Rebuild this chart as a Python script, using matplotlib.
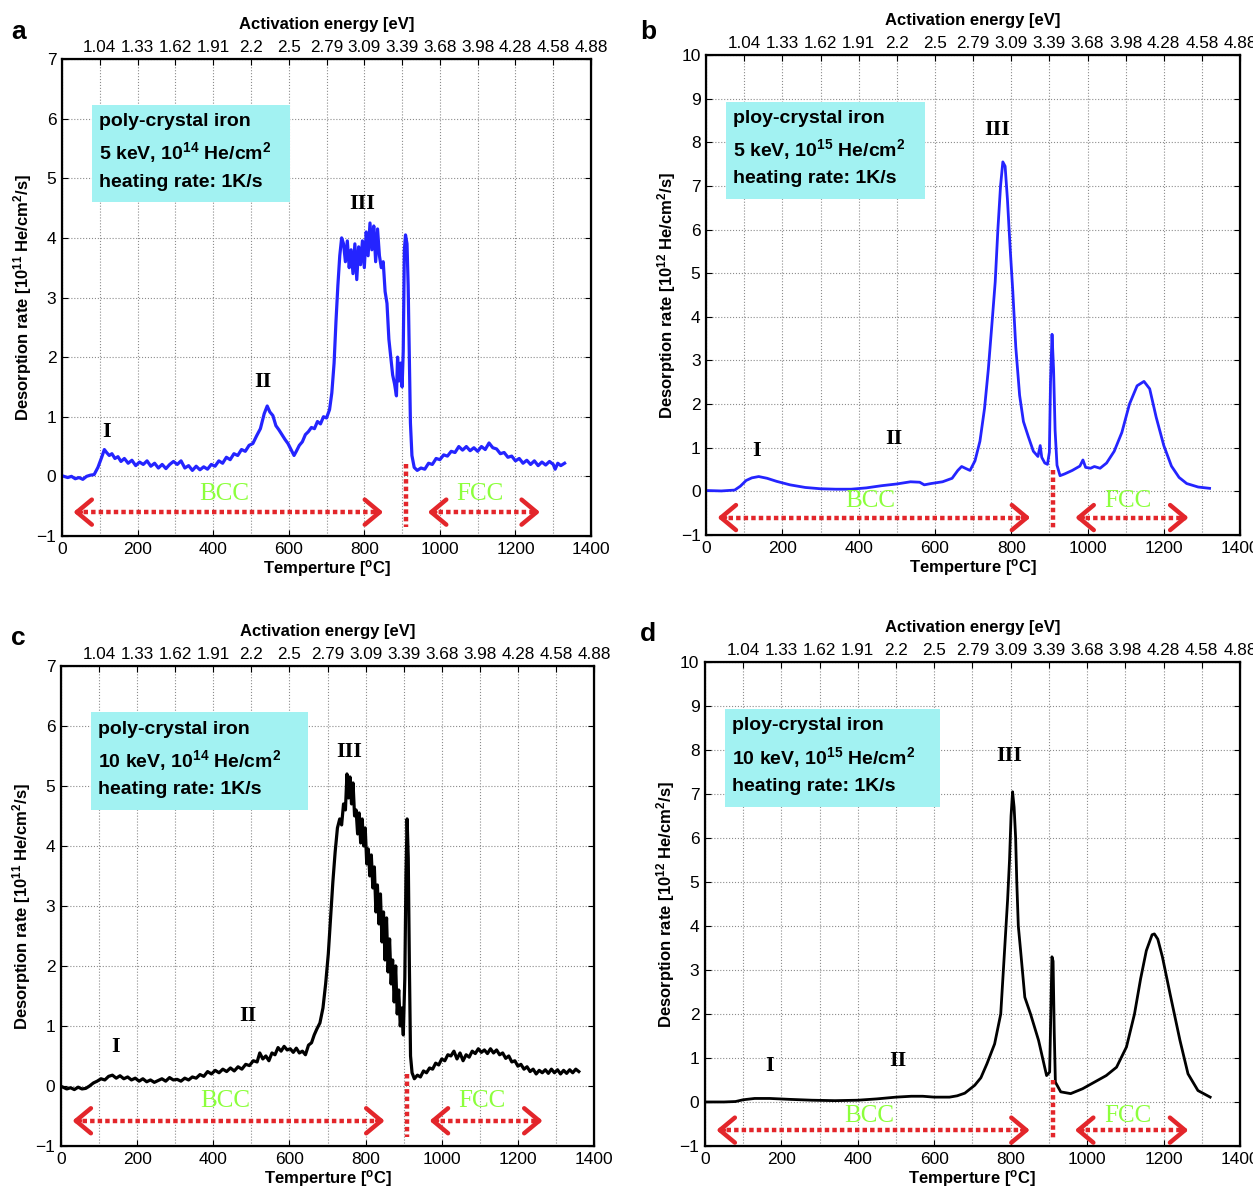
import matplotlib.pyplot as plt
from matplotlib.patches import Rectangle

plt.rcParams['font.family'] = ['Liberation Sans', 'DejaVu Sans']
plt.rcParams['mathtext.fontset'] = 'custom'
plt.rcParams['mathtext.rm'] = 'Liberation Sans:bold'
plt.rcParams['mathtext.bf'] = 'Liberation Sans:bold'
plt.rcParams['mathtext.default'] = 'bf'

# top axis: activation energy at every 100 C
energy_ticks = [100, 200, 300, 400, 500, 600, 700, 800, 900, 1000, 1100, 1200, 1300, 1400]
energy_labels = ['1.04', '1.33', '1.62', '1.91', '2.2', '2.5', '2.79', '3.09', '3.39',
                 '3.68', '3.98', '4.28', '4.58', '4.88']

# (a) 5 keV, 1e14 He/cm2  [1e11 He/cm2/s]
a_temp = [5, 15, 25, 35, 45, 55, 65, 75, 85, 95, 105, 112, 118, 125, 132, 140, 148, 156, 165,
          175, 185, 195, 205, 215, 225, 235, 245, 255, 265, 275, 285, 295, 305, 315, 325, 335,
          345, 355, 365, 375, 385, 395, 405, 415, 425, 435, 445, 455, 465, 475, 485, 495, 505,
          515, 525, 535, 543, 550, 558, 566, 574, 582, 590, 598, 606, 614, 620, 628, 636, 644,
          652, 660, 668, 676, 684, 692, 700, 708, 714, 720, 725, 730, 735, 740, 745, 750, 755,
          760, 765, 770, 775, 780, 785, 790, 795, 800, 805, 810, 815, 820, 825, 830, 835, 840,
          845, 850, 855, 860, 865, 870, 875, 880, 885, 888, 892, 896, 900, 903, 906, 909, 913,
          916, 919, 922, 926, 932, 940, 950, 960, 970, 980, 990, 1000, 1010, 1020, 1030, 1040,
          1050, 1060, 1070, 1080, 1090, 1100, 1110, 1120, 1130, 1140, 1150, 1160, 1170, 1180,
          1190, 1200, 1210, 1220, 1230, 1240, 1250, 1260, 1270, 1280, 1290, 1300, 1305, 1312,
          1320, 1330]
a_rate = [0.0, -0.02, 0.0, -0.04, -0.02, -0.05, 0.0, 0.02, 0.03, 0.15, 0.32, 0.45, 0.40, 0.35,
          0.38, 0.30, 0.33, 0.25, 0.30, 0.22, 0.27, 0.18, 0.24, 0.20, 0.26, 0.17, 0.22, 0.14,
          0.20, 0.13, 0.20, 0.25, 0.20, 0.26, 0.14, 0.18, 0.10, 0.17, 0.11, 0.16, 0.12, 0.20,
          0.17, 0.26, 0.22, 0.32, 0.28, 0.38, 0.35, 0.45, 0.42, 0.52, 0.55, 0.68, 0.80, 1.05,
          1.18, 1.08, 1.02, 0.85, 0.78, 0.70, 0.62, 0.55, 0.45, 0.35, 0.42, 0.52, 0.58, 0.70,
          0.75, 0.82, 0.80, 0.92, 0.88, 1.00, 0.98, 1.12, 1.40, 1.90, 2.60, 3.20, 3.70, 4.00,
          3.90, 3.60, 3.95, 3.50, 3.80, 3.40, 3.90, 3.30, 3.85, 3.55, 3.95, 3.50, 4.10, 3.70,
          4.25, 3.80, 4.20, 3.60, 4.15, 3.70, 3.50, 3.60, 3.10, 2.90, 2.30, 2.00, 1.70, 1.55,
          1.35, 2.00, 1.60, 1.90, 1.50, 2.10, 3.80, 4.05, 3.90, 3.20, 2.00, 0.90, 0.35, 0.15,
          0.10, 0.14, 0.12, 0.22, 0.20, 0.30, 0.28, 0.36, 0.34, 0.42, 0.40, 0.50, 0.44, 0.50,
          0.43, 0.48, 0.42, 0.50, 0.45, 0.56, 0.48, 0.46, 0.38, 0.40, 0.32, 0.34, 0.26, 0.30,
          0.22, 0.27, 0.20, 0.26, 0.18, 0.24, 0.19, 0.25, 0.20, 0.12, 0.22, 0.18, 0.22]

# (b) 5 keV, 1e15 He/cm2  [1e12 He/cm2/s]
b_temp = [0, 40, 75, 90, 105, 120, 138, 160, 185, 220, 260, 300, 340, 380, 420, 460, 500, 536,
          560, 572, 590, 620, 645, 660, 670, 682, 692, 705, 718, 730, 740, 750, 758, 765, 772,
          778, 784, 790, 797, 804, 812, 822, 832, 845, 858, 870, 876, 880, 888, 895, 900, 903,
          907, 911, 915, 920, 928, 940, 960, 980, 988, 995, 1008, 1018, 1033, 1050, 1070, 1090,
          1110, 1130, 1148, 1163, 1180, 1200, 1220, 1240, 1260, 1290, 1320]
b_rate = [0.02, 0.01, 0.03, 0.12, 0.25, 0.31, 0.34, 0.30, 0.23, 0.15, 0.09, 0.06, 0.05, 0.05,
          0.08, 0.13, 0.17, 0.22, 0.21, 0.15, 0.18, 0.22, 0.30, 0.48, 0.57, 0.52, 0.48, 0.70,
          1.15, 1.90, 2.80, 3.90, 4.80, 6.00, 7.00, 7.55, 7.45, 6.70, 5.60, 4.60, 3.30, 2.20,
          1.60, 1.25, 0.92, 0.80, 1.05, 0.78, 0.65, 0.62, 0.90, 2.50, 3.60, 2.80, 1.40, 0.60,
          0.36, 0.40, 0.48, 0.58, 0.72, 0.55, 0.53, 0.57, 0.53, 0.65, 0.92, 1.35, 2.00, 2.42,
          2.52, 2.35, 1.70, 1.05, 0.58, 0.32, 0.18, 0.10, 0.07]

# (c) 10 keV, 1e14 He/cm2  [1e11 He/cm2/s]
c_temp = [5, 15, 25, 35, 45, 55, 65, 75, 85, 95, 105, 115, 125, 135, 145, 155, 165, 175, 185,
          195, 205, 215, 225, 235, 245, 255, 265, 275, 285, 295, 305, 315, 325, 335, 345, 355,
          365, 375, 385, 395, 405, 415, 425, 435, 445, 455, 465, 475, 485, 495, 505, 515, 522,
          530, 538, 546, 554, 562, 570, 578, 586, 594, 602, 610, 618, 626, 634, 642, 650, 658,
          665, 672, 680, 688, 695, 702, 708, 714, 720, 726, 732, 737, 742, 747, 751, 755, 759,
          763, 767, 771, 775, 779, 783, 787, 791, 795, 799, 803, 807, 811, 815, 819, 823, 827,
          831, 835, 839, 843, 847, 851, 855, 859, 863, 867, 871, 875, 879, 883, 887, 891, 895,
          899, 903, 906, 909, 912, 915, 918, 922, 928, 936, 944, 952, 960, 968, 976, 984, 992,
          1000, 1008, 1016, 1024, 1032, 1040, 1048, 1056, 1064, 1072, 1080, 1088, 1096, 1104,
          1112, 1120, 1128, 1136, 1144, 1152, 1160, 1168, 1176, 1184, 1192, 1200, 1208, 1216,
          1224, 1232, 1240, 1248, 1256, 1264, 1272, 1280, 1288, 1296, 1304, 1312, 1320, 1328,
          1336, 1344, 1352, 1360]
c_rate = [-0.02, -0.05, -0.03, -0.06, -0.02, -0.05, -0.04, 0.0, 0.05, 0.08, 0.12, 0.10, 0.16,
          0.18, 0.13, 0.17, 0.12, 0.15, 0.10, 0.13, 0.08, 0.12, 0.07, 0.10, 0.06, 0.09, 0.12,
          0.08, 0.14, 0.10, 0.11, 0.08, 0.13, 0.10, 0.15, 0.13, 0.19, 0.16, 0.24, 0.20, 0.26,
          0.22, 0.28, 0.24, 0.30, 0.25, 0.32, 0.28, 0.36, 0.34, 0.42, 0.40, 0.55, 0.45, 0.50,
          0.42, 0.55, 0.52, 0.64, 0.58, 0.66, 0.60, 0.62, 0.56, 0.63, 0.55, 0.58, 0.52, 0.68,
          0.72, 0.85, 0.95, 1.05, 1.30, 1.70, 2.20, 2.80, 3.40, 3.90, 4.30, 4.45, 4.35, 4.70,
          4.60, 5.20, 4.80, 5.15, 4.70, 5.05, 4.50, 4.60, 4.20, 4.55, 4.05, 4.45, 4.00, 4.30,
          3.70, 3.95, 3.50, 3.85, 3.30, 3.65, 2.90, 3.35, 2.70, 3.20, 2.40, 2.90, 2.10, 2.80,
          1.90, 2.45, 1.70, 2.10, 1.40, 2.00, 1.20, 1.60, 1.00, 1.30, 0.85, 1.80, 3.50, 4.45,
          3.80, 2.00, 0.50, 0.22, 0.12, 0.18, 0.15, 0.25, 0.22, 0.30, 0.28, 0.38, 0.35, 0.45,
          0.42, 0.52, 0.50, 0.58, 0.45, 0.55, 0.42, 0.52, 0.48, 0.58, 0.54, 0.62, 0.56, 0.60,
          0.54, 0.62, 0.55, 0.60, 0.52, 0.55, 0.46, 0.50, 0.40, 0.42, 0.33, 0.36, 0.28, 0.32,
          0.24, 0.28, 0.20, 0.26, 0.22, 0.27, 0.21, 0.28, 0.22, 0.27, 0.20, 0.26, 0.21, 0.27,
          0.22, 0.28, 0.24]

# (d) 10 keV, 1e15 He/cm2  [1e12 He/cm2/s]
d_temp = [0, 50, 80, 100, 130, 170, 220, 280, 340, 400, 450, 500, 540, 570, 600, 640, 660, 680,
          706, 722, 738, 758, 774, 784, 792, 797, 801, 805, 809, 813, 816, 820, 826, 837, 852,
          873, 889, 894, 902, 905, 908, 911, 914, 917, 931, 957, 988, 1019, 1050, 1077, 1103,
          1124, 1140, 1155, 1170, 1176, 1185, 1197, 1217, 1243, 1264, 1290, 1322]
d_rate = [0.0, 0.0, 0.01, 0.05, 0.08, 0.08, 0.06, 0.04, 0.03, 0.04, 0.07, 0.11, 0.13, 0.13,
          0.11, 0.11, 0.14, 0.20, 0.38, 0.55, 0.87, 1.32, 2.00, 3.44, 4.60, 5.50, 6.50, 7.05,
          6.70, 6.00, 5.00, 4.00, 3.44, 2.38, 2.00, 1.40, 0.79, 0.60, 0.68, 2.00, 3.30, 3.20,
          1.60, 0.45, 0.23, 0.19, 0.30, 0.45, 0.60, 0.79, 1.25, 2.00, 2.80, 3.44, 3.80, 3.82,
          3.70, 3.30, 2.46, 1.40, 0.64, 0.26, 0.11]

RED = '#e3262b'
GREEN = '#8cff3c'
CYAN = '#a2f2f2'


def panel(fig, rect, temp, rate, color, lw, ymax, exponent, lines, box_x1, numerals,
          phase_y, arrow_y, letter, letter_pos):
    ax = fig.add_axes(rect)
    ax.plot(temp, rate, color=color, lw=lw, zorder=3)
    ax.set_xlim(0, 1400)
    ax.set_ylim(-1, ymax)
    ax.set_xticks(range(0, 1401, 200))
    ax.set_xticks(range(0, 1401, 100), minor=True)
    ax.set_yticks(range(-1, ymax + 1))
    ax.tick_params(which='major', direction='in', right=True, length=4, labelsize=12.5, pad=4)
    ax.tick_params(which='minor', length=0)
    ax.grid(which='both', ls=':', color='0.55', lw=0.8)
    for s in ax.spines.values():
        s.set_linewidth(1.6)
    ax.set_xlabel('Temperture [$^{o}$C]', fontsize=12, fontweight='bold', labelpad=1)
    ax.set_ylabel('Desorption rate [10$^{%d}$ He/cm$^{2}$/s]' % exponent,
                  fontsize=12, fontweight='bold', labelpad=2)

    top = ax.twiny()
    top.set_xlim(0, 1400)
    top.set_xticks(energy_ticks)
    top.set_xticklabels(energy_labels)
    top.tick_params(direction='in', length=4, labelsize=12.3, pad=3)
    top.set_xlabel('Activation energy [eV]', fontsize=12, fontweight='bold', labelpad=8)

    # info box
    x0 = 0.057 if rect[0] < 0.3 else 0.038
    ax.add_patch(Rectangle((x0, 0.70), box_x1 - x0, 0.203, transform=ax.transAxes,
                           facecolor=CYAN, edgecolor='none', zorder=4))
    for txt, yy in zip(lines, [0.868, 0.803, 0.742]):
        ax.text(x0 + 0.012, yy, txt, transform=ax.transAxes, fontsize=14,
                fontweight='bold', va='center', ha='left', zorder=5)

    for txt, xx, yy in numerals:
        ax.text(xx, yy, txt, fontsize=16, fontweight='bold', family='Liberation Serif',
                ha='center', va='center', zorder=5)

    ax.text(430, phase_y, 'BCC', fontsize=18, family='Liberation Serif', color=GREEN,
            ha='center', va='center', zorder=5)
    ax.text(1106, phase_y, 'FCC', fontsize=18, family='Liberation Serif', color=GREEN,
            ha='center', va='center', zorder=5)

    # phase ranges
    for xa, xb in [(30, 850), (968, 1265)]:
        ax.plot([xa + 8, xb - 8], [arrow_y, arrow_y], color=RED, lw=3.2,
                ls=(0, (1, 0.7)), zorder=4)
        for tip, tail in [(xa, xa + 20), (xb, xb - 20)]:
            ax.annotate('', xy=(tip, arrow_y), xytext=(tail, arrow_y),
                        arrowprops=dict(arrowstyle='->,head_length=0.6,head_width=0.5',
                                        color=RED, lw=3.2, mutation_scale=18,
                                        shrinkA=0, shrinkB=0), zorder=4)
    y_top = 0.2 if ymax == 7 else 0.5
    ax.plot([910, 910], [y_top, -0.85], color=RED, lw=3.2, ls=(0, (1, 0.7)), zorder=4)

    fig.text(letter_pos[0], letter_pos[1], letter, fontsize=19, fontweight='bold',
             ha='left', va='center')
    return ax


fig = plt.figure(figsize=(12.53, 11.90), dpi=100)

panel(fig, [0.0495, 0.5496, 0.4222, 0.4008], a_temp, a_rate, '#2424ff', 2.3, 7, 11,
      ['poly-crystal iron', '5 keV, 10$^{14}$ He/cm$^{2}$', 'heating rate: 1K/s'], 0.431,
      [('I', 119, 0.74), ('II', 532, 1.58), ('III', 795, 4.56)], -0.29, -0.6,
      'a', (0.009, 0.973))
panel(fig, [0.5635, 0.5504, 0.4262, 0.4034], b_temp, b_rate, '#2424ff', 2.0, 10, 12,
      ['ploy-crystal iron', '5 keV, 10$^{15}$ He/cm$^{2}$', 'heating rate: 1K/s'], 0.41,
      [('I', 133, 0.92), ('II', 492, 1.19), ('III', 762, 8.28)], -0.23, -0.6,
      'b', (0.511, 0.973))
panel(fig, [0.0487, 0.0370, 0.4254, 0.4034], c_temp, c_rate, 'black', 2.3, 7, 11,
      ['poly-crystal iron', '10 keV, 10$^{14}$ He/cm$^{2}$', 'heating rate: 1K/s'], 0.463,
      [('I', 142, 0.65), ('II', 492, 1.17), ('III', 758, 5.57)], -0.25, -0.58,
      'c', (0.009, 0.464))
panel(fig, [0.5626, 0.0370, 0.4270, 0.4067], d_temp, d_rate, 'black', 2.0, 10, 12,
      ['ploy-crystal iron', '10 keV, 10$^{15}$ He/cm$^{2}$', 'heating rate: 1K/s'], 0.44,
      [('I', 168, 0.82), ('II', 505, 0.93), ('III', 795, 7.86)], -0.32, -0.64,
      'd', (0.511, 0.467))

fig.savefig('out.png', dpi=100)
